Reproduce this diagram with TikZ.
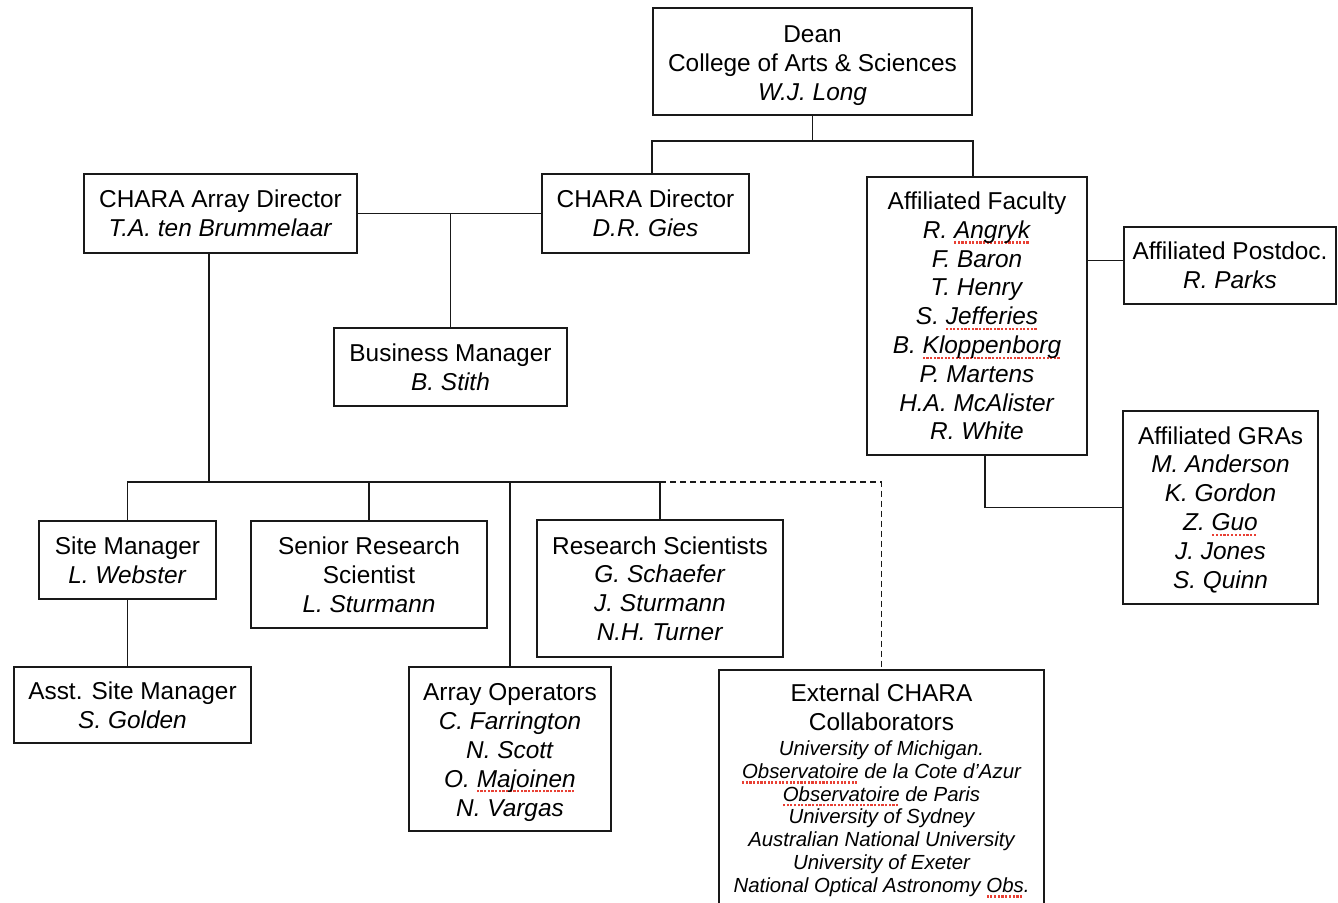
\documentclass[tikz,border=0pt]{standalone}
\usepackage{fontspec}
\setmainfont{Liberation Sans}
\usetikzlibrary{positioning, calc}
\definecolor{unitcol}{RGB}{25,25,25}
\definecolor{spellcol}{RGB}{232,64,52}
\newsavebox{\spellbox}
\newcommand{\spellmark}[1]{\sbox{\spellbox}{#1}\rlap{\raisebox{-2.6pt}{\textcolor{spellcol}{\hbox to \wd\spellbox{\xleaders\hbox{\rule{1.1pt}{1.1pt}\hskip0.7pt}\hfill}}}}#1}

\begin{document}
\begin{tikzpicture}[
			x=0.5pt,
			y=-0.5pt,
			unit/.style={
				draw=unitcol,
				line width=0.85pt,
				align=center,
				inner sep=0pt,
				font=\fontsize{12.2}{14.4}\selectfont
			},
			size/.style 2 args={
				minimum width=#1*0.5pt,
				minimum height=#2*0.5pt
			},
			link/.style={
				draw=unitcol,
				line width=0.85pt
			}
			]
			\useasboundingbox (0,0) rectangle (1338,903);
			% Units
			\node[unit, size={319}{107}] (Dean) at (812.5,61.5) {\rule{0pt}{12.5pt}Dean\\College of Arts \& Sciences\\\textit{W.J. Long}};
			\node[unit, size={273}{79}] (ArrayDir) at (220.5,213.5) {CHARA Array Director\\\textit{T.A. ten Brummelaar}};
			\node[unit, size={207}{79}] (ChDir) at (645.5,213.5) {CHARA Director\\\textit{D.R. Gies}};
			\node[unit, size={220}{278}] (Faculty) at (977,316) {Affiliated Faculty\\\textit{R. \spellmark{Angryk}}\\\textit{F. Baron}\\\textit{T. Henry}\\\textit{S. \spellmark{Jefferies}}\\\textit{B. \spellmark{Kloppenborg}}\\\textit{P. Martens}\\\textit{H.A. McAlister}\\\textit{R. White}};
			\node[unit, size={212}{77}] (Postdoc) at (1230,265.5) {Affiliated Postdoc.\\\textit{R. Parks}};
			\node[unit, size={195}{193}] (GRAs) at (1220.5,507.5) {\rule{0pt}{11pt}Affiliated GRAs\\\textit{M. Anderson}\\\textit{K. Gordon}\\\textit{Z. \spellmark{Guo}}\\\textit{J. Jones}\\\textit{S. Quinn}};
			\node[unit, size={233}{78}] (Business) at (450.5,367) {Business Manager\\\textit{B. Stith}};
			\node[unit, size={177}{78}] (Site) at (127.5,560) {Site Manager\\\textit{L. Webster}};
			\node[unit, size={236}{107}] (Senior) at (369,574.5) {Senior Research\\Scientist\\\textit{L. Sturmann}};
			\node[unit, size={246}{137}] (Research) at (660,588.5) {Research Scientists\\\textit{G. Schaefer}\\\textit{J. Sturmann}\\\textit{N.H. Turner}};
			\node[unit, size={237}{76}] (AsstSite) at (132.5,705) {Asst. Site Manager\\\textit{S. Golden}};
			\node[unit, size={202}{164}] (ArrayOps) at (510,749) {\rule{0pt}{12pt}Array Operators\\\textit{C. Farrington}\\\textit{N. Scott}\\\textit{O. \spellmark{Majoinen}}\\\textit{N. Vargas}};
			\node[unit, anchor=north, minimum width=162.5pt, inner ysep=7pt] (External) at (881.5,669) {External CHARA\\Collaborators\\[-1.8pt]
				{\fontsize{10.2}{11.4}\selectfont\itshape
				\begin{tabular}[t]{@{}c@{}}
					University of Michigan.\\
					\spellmark{Observatoire} de la Cote d'Azur\\
					\spellmark{Observatoire} de Paris\\
					University of Sydney\\
					Australian National University\\
					University of Exeter\\
					National Optical Astronomy \spellmark{Obs}.\rule[-10pt]{0pt}{0pt}
				\end{tabular}}};
			
			% Links
			\coordinate[below=12.5pt of Dean.south] (deanbus);
			\coordinate (staffbus) at (209,482);
			\draw[link] (Dean.south) -- (deanbus);
			\draw[link] (Dean.west |- ChDir.north) |- (deanbus) -| (Dean.east |- Faculty.north);
			\draw[link] (ArrayDir.east) -- (ChDir.west);
			\draw[link] (Business.north) -- (Business.north |- ChDir.west);
			\draw[link] (staffbus |- ArrayDir.south) -- (staffbus);
			\draw[link] (Site.north) |- (staffbus -| Research.north) -- (Research.north);
			\draw[link] (Senior.north) -- (Senior.north |- staffbus);
			\draw[link] (ArrayOps.north) -- (ArrayOps.north |- staffbus);
			\draw[link, dash pattern=on 3pt off 2pt] (staffbus -| Research.north) -| (External.north);
			\draw[link] (Site.south) -- (Site.south |- AsstSite.north);
			\draw[link] ([yshift=2.5pt]Postdoc.west) -- ([yshift=2.5pt]Postdoc.west -| Faculty.east);
			\draw[link] (GRAs.west) -| ([xshift=4pt]Faculty.south);
		\end{tikzpicture}
\end{document}
